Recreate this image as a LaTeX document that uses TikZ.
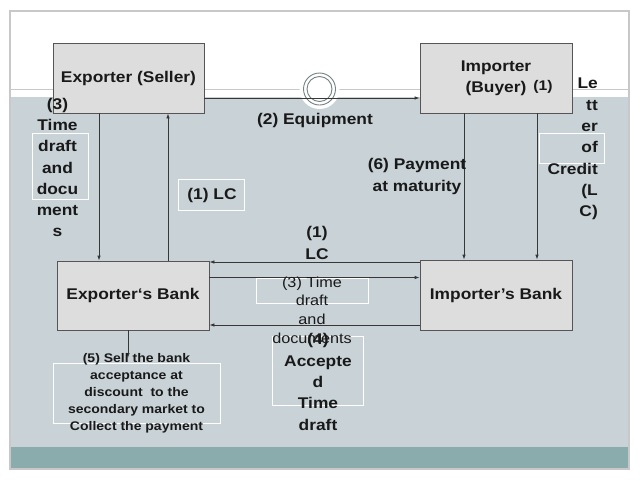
\documentclass[tikz,border=0pt]{standalone}
\usepackage{fontspec}
\setmainfont[FakeStretch=1.12]{Liberation Sans}
\usetikzlibrary{arrows.meta}

\definecolor{bandgray}{RGB}{200,210,215}
\definecolor{tealband}{RGB}{138,172,172}
\definecolor{boxfill}{RGB}{221,221,221}
\definecolor{boxline}{RGB}{85,85,85}
\definecolor{flowline}{RGB}{55,55,55}
\definecolor{framecol}{RGB}{200,200,200}
\definecolor{ringcol}{RGB}{115,130,130}
\definecolor{textcol}{RGB}{25,25,25}

\begin{document}
\begin{tikzpicture}[x=1pt, y=-1pt,
	party/.style={draw=boxline, fill=boxfill, line width=0.8pt, minimum width=151pt, minimum height=70pt, inner sep=0pt, align=center, text=textcol, font=\bfseries\fontsize{15.5}{21}\selectfont},
	flow/.style={draw=flowline, line width=0.8pt, -{Latex[length=5pt,width=3.5pt]}},
	tag/.style={inner sep=0pt, align=center, text=textcol, font=\bfseries\fontsize{15.5}{21.3}\selectfont},
	hintbox/.style={draw=white, line width=1pt}]
	\useasboundingbox (0,0) rectangle (640,480);
	% slide background
	\fill[white] (0,0) rectangle (640,480);
	\fill[bandgray] (10,97) rectangle (629,447);
	\fill[tealband] (10,447) rectangle (629,469);
	\draw[framecol, line width=1.2pt] (10,11) rectangle (629,469);
	\draw[framecol, line width=1pt] (10,89) -- (629,89);
	\fill[white] (319.5,89) circle (20);
	\draw[ringcol, line width=0.9pt] (319.5,89) circle (16);
	\draw[ringcol, line width=0.9pt] (319.5,89) circle (12.5);
	% white frames behind the labels
	\draw[hintbox] (32,133) rectangle (88,199);
	\draw[hintbox] (178,179) rectangle (244,210);
	\draw[hintbox] (539,133) rectangle (604,163);
	\draw[hintbox] (256,278) rectangle (368,303);
	\draw[hintbox] (272,336) rectangle (363,405);
	\draw[hintbox] (53,363) rectangle (220,423);
	% parties
	\node[party] (exporter) at (128.5,78) {Exporter (Seller)};
	\node[party, minimum width=152pt] (importer) at (496,78) {Importer\\(Buyer)};
	\node[party, minimum width=152pt, minimum height=69pt] (expbank) at (133,295.5) {Exporter‘s Bank};
	\node[party, minimum width=152pt] (impbank) at (496,295) {Importer’s Bank};
	% connectors
	\coordinate (expdown) at ([xshift=-29.5pt]exporter.south);
	\coordinate (expup) at ([xshift=39.5pt]exporter.south);
	\coordinate (impleft) at ([xshift=-32pt]importer.south);
	\coordinate (impright) at ([xshift=41pt]importer.south);
	\coordinate (lcrow) at ([yshift=33pt]impbank.west);
	\coordinate (draftrow) at ([yshift=18pt]expbank.east);
	\coordinate (acceptrow) at ([yshift=-30pt]impbank.west);
	\coordinate (goodsrow) at ([yshift=-20pt]exporter.east);
	\coordinate (sellend) at (128,358);
	\draw[flow] (goodsrow) -- (goodsrow -| importer.west);
	\draw[flow] (expdown) -- (expdown |- expbank.north);
	\draw[flow] (expup |- expbank.north) -- (expup);
	\draw[flow] (impleft) -- (impleft |- impbank.north);
	\draw[flow] (impright) -- (impright |- impbank.north);
	\draw[flow] (lcrow) -- (lcrow -| expbank.east);
	\draw[flow] (draftrow) -- (draftrow -| impbank.west);
	\draw[flow] (acceptrow) -- (acceptrow -| expbank.east);
	\draw[flow] (sellend |- expbank.south) -- (sellend);
	% labels
	\node[tag] (timedocs) at (57.5,167.5) {(3)\\Time\\draft\\and\\docu\\ment\\s};
	\node[tag, align=right, anchor=east] (lcword) at (598,149) {Le\\tt\\er\\of\\Credit\\(L\\C)};
	\node[tag, font=\bfseries\fontsize{14}{16}\selectfont] (buyerone) at (543,87) {(1)};
	\node[tag] (payment) at (417,176.5) {(6) Payment\\at maturity};
	\node[tag] (lcup) at (212,195) {(1) LC};
	\node[tag] (equip) at (315,120) {(2) Equipment};
	\node[tag] (lcmid) at (317,243) {(1)\\LC};
	\node[tag, font=\fontsize{14.5}{18.7}\selectfont] (drafts) at (312,310) {(3) Time\\draft\\and\\documents};
	\node[tag] (accepted) at (318,382) {(4)\\Accepte\\d\\Time\\draft};
	\node[tag, font=\bfseries\fontsize{12.5}{17}\selectfont] (sell) at (136.5,393) {(5) Sell the bank\\acceptance at\\discount~ to the\\secondary market to\\Collect the payment};
\end{tikzpicture}
\end{document}
